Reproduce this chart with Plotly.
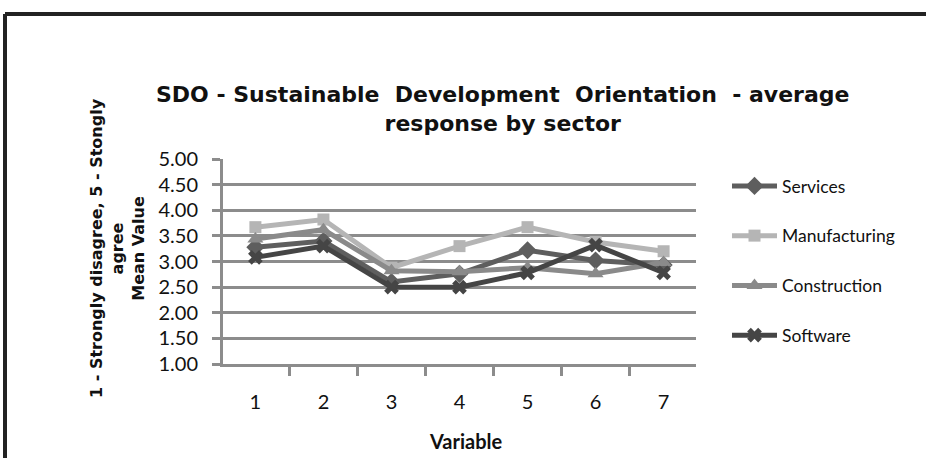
import plotly.graph_objects as go

categories = ["1", "2", "3", "4", "5", "6", "7"]
services = [3.28, 3.40, 2.60, 2.76, 3.22, 3.02, 2.93]
manufacturing = [3.67, 3.82, 2.88, 3.30, 3.67, 3.38, 3.20]
construction = [3.44, 3.62, 2.82, 2.80, 2.88, 2.76, 2.98]
software = [3.08, 3.30, 2.50, 2.50, 2.78, 3.32, 2.78]

series = [
    ("Services", services, "#5e5e5e", "diamond", 14),
    ("Manufacturing", manufacturing, "#b5b5b5", "square", 12),
    ("Construction", construction, "#8a8a8a", "triangle-up", 14),
    ("Software", software, "#454545", "x", 13),
]

W, H = 926, 458
L, R, T, B = 223, 230, 159, 94
PW, PH = W - L - R, H - T - B


def px(x):
    return (x - L) / PW


def py(y):
    return (H - B - y) / PH


fig = go.Figure()
for name, vals, col, sym, sz in series:
    fig.add_trace(go.Scatter(
        x=categories, y=vals, name=name, mode="lines+markers",
        line=dict(color=col, width=5),
        marker=dict(color=col, symbol=sym, size=sz, line=dict(width=0)),
        legendgroup=name,
    ))

grid = "#8c8c8c"
fig.update_layout(
    width=W, height=H,
    margin=dict(l=L, r=R, t=T, b=B),
    paper_bgcolor="white", plot_bgcolor="white",
    showlegend=True,
    legend=dict(x=px(727), y=py(168), xanchor="left", yanchor="top",
                font=dict(family="Lato", size=17.5, color="#111"),
                tracegroupgap=24, itemwidth=45, bgcolor="rgba(0,0,0,0)"),
    xaxis=dict(type="category", tickson="boundaries", showgrid=False,
               showline=True, linecolor=grid, linewidth=3,
               ticks="outside", ticklen=9, tickwidth=3, tickcolor=grid,
               tickfont=dict(family="Lato", size=20, color="#111"),
               ticklabelstandoff=18),
    yaxis=dict(range=[1, 5], dtick=0.5, tick0=1, tickformat=".2f",
               showgrid=True, gridcolor=grid, gridwidth=3,
               showline=True, linecolor=grid, linewidth=3, zeroline=False,
               ticks="outside", ticklen=8, tickwidth=3, tickcolor=grid,
               tickfont=dict(family="Lato", size=20, color="#111"),
               ticklabelstandoff=10),
    annotations=[
        dict(text="SDO - Sustainable  Development  Orientation  - average<br>response by sector",
             x=px(502), y=py(109), xref="paper", yref="paper",
             xanchor="center", yanchor="middle", showarrow=False,
             font=dict(family="DejaVu Sans", size=22, color="#111", weight="bold")),
        dict(text="Variable", x=px(466), y=py(441), xref="paper", yref="paper",
             xanchor="center", yanchor="middle", showarrow=False,
             font=dict(family="Lato", size=20, color="#111", weight="bold")),
        dict(text="1 - Strongly disagree, 5 - Stongly<br>agree<br>Mean Value",
             x=px(117), y=py(248), xref="paper", yref="paper", textangle=-90,
             xanchor="center", yanchor="middle", showarrow=False,
             font=dict(family="DejaVu Sans", size=16, color="#111", weight="bold")),
    ],
    shapes=[
        dict(type="line", xref="paper", yref="paper", x0=px(5), x1=px(1000),
             y0=py(14), y1=py(14), line=dict(color="#222", width=4)),
        dict(type="line", xref="paper", yref="paper", x0=px(5), x1=px(5),
             y0=py(14), y1=py(500), line=dict(color="#222", width=4)),
    ],
)

fig.write_html("out.html", config={"displayModeBar": False},
               post_script="document.body.style.margin='0';document.body.style.padding='0';")
